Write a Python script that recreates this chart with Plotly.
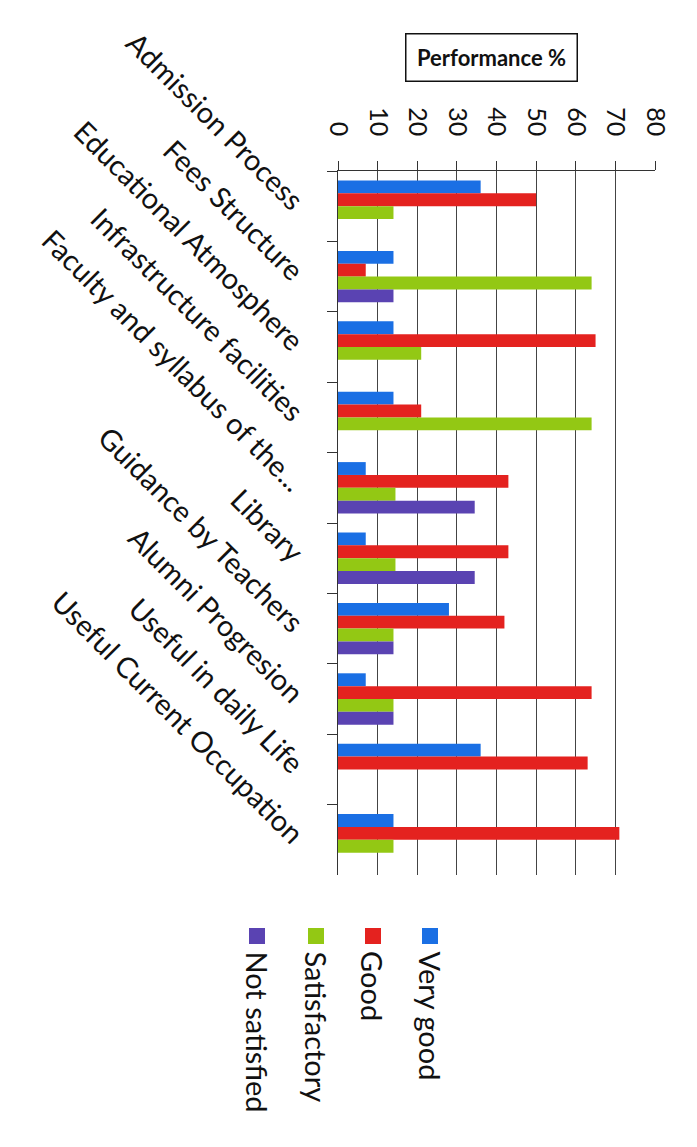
import plotly.graph_objects as go

categories = [
    "Admission Process",
    "Fees Structure",
    "Educational Atmosphere",
    "Infrastructure facilities",
    "Faculty and syllabus of the...",
    "Library",
    "Guidance by Teachers",
    "Alumni Progresion",
    "Useful in daily Life",
    "Useful Current Occupation",
]
series_names = ["Very good", "Good", "Satisfactory", "Not satisfied"]
very_good = [36, 14, 14, 14, 7, 7, 28, 7, 36, 14]
good = [50, 7, 65, 21, 43, 43, 42, 64, 63, 71]
satisfactory = [14, 64, 21, 64, 14.5, 14.5, 14, 14, 0, 14]
not_satisfied = [0, 14, 0, 0, 34.5, 34.5, 14, 14, 0, 0]
value_ticks = [0, 10, 20, 30, 40, 50, 60, 70, 80]

colors = ["#1a6fe4", "#e4221f", "#93c814", "#5a43b2"]
series_values = [very_good, good, satisfactory, not_satisfied]

# page is rendered with an 8px body margin
OFF = 8
W, H = 697 - 2 * OFF, 1147 - 2 * OFF
L, R, T, B = 338 - OFF, 655 - OFF, 171 - OFF, 875 - OFF
FONT = "Lato"

fig = go.Figure()
for name, vals, col in zip(series_names, series_values, colors):
    fig.add_trace(go.Bar(
        y=categories, x=vals, name=name, orientation="h",
        marker=dict(color=col, line=dict(width=0)),
    ))

def px(xp):
    return (xp - OFF - L) / (R - L)

def py(yp):
    return (B - (yp - OFF)) / (B - T)

shapes = []
annotations = []
legend_x = [430, 373, 316, 257]
for name, col, cx in zip(series_names, colors, legend_x):
    shapes.append(dict(type="rect", xref="paper", yref="paper",
                       x0=px(cx - 8), x1=px(cx + 8), y0=py(944), y1=py(928),
                       fillcolor=col, line=dict(width=0)))
    annotations.append(dict(text=name, xref="paper", yref="paper",
                            x=px(cx), y=py(949), xanchor="center", yanchor="top",
                            textangle=90, showarrow=False,
                            font=dict(family=FONT, size=29, color="#111")))

annotations.append(dict(text="<b>Performance %</b>", xref="paper", yref="paper",
                        x=px(491), y=py(57), xanchor="center", yanchor="middle",
                        showarrow=False, bordercolor="#111", borderwidth=1.5,
                        width=168, height=44,
                        font=dict(family=FONT, size=22, color="#111")))

fig.update_layout(
    width=W, height=H,
    margin=dict(l=L, r=W - R, t=T, b=H - B),
    paper_bgcolor="white", plot_bgcolor="white",
    barmode="group", bargap=0.27, bargroupgap=0,
    showlegend=False,
    shapes=shapes, annotations=annotations,
    font=dict(family=FONT, color="#111"),
    xaxis=dict(side="top", range=[0, 80], tickvals=value_ticks,
               tickangle=90, ticks="outside", ticklen=9, tickcolor="#333",
               ticklabelstandoff=16,
               showgrid=True, gridcolor="#444", gridwidth=1,
               showline=True, linecolor="#333", linewidth=1,
               zeroline=False, tickfont=dict(family=FONT, size=25, color="#111")),
    yaxis=dict(categoryorder="array", categoryarray=categories,
               autorange="reversed", tickson="boundaries",
               ticks="outside", ticklen=10, tickcolor="#333",
               ticklabelstandoff=30,
               showline=True, linecolor="#333", linewidth=1,
               showgrid=False, tickangle=45,
               tickfont=dict(family=FONT, size=29, color="#111")),
)

fig.write_html("out.html")
